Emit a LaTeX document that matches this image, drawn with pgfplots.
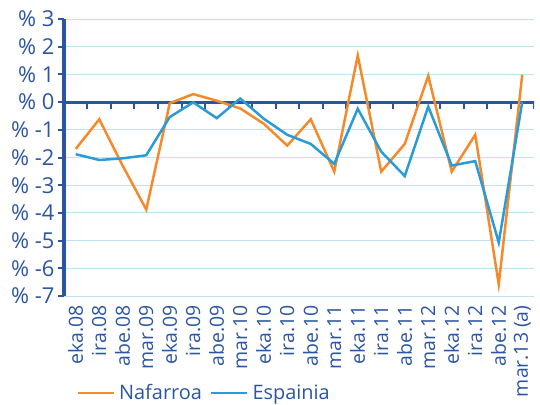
\documentclass[border=0pt]{standalone}
\usepackage{pgfplots}
\pgfplotsset{compat=1.18}
\usepackage{fontspec}
\setmainfont{Open Sans}
\definecolor{naf}{HTML}{F58A2C}
\definecolor{esp}{HTML}{2A9BD6}
\definecolor{axc}{HTML}{2B55A3}
\definecolor{grd}{HTML}{BEE3F4}
\begin{document}
\begin{tikzpicture}
\begin{axis}[
  at={(0,0)}, anchor=south west,
  scale only axis, width=470bp, height=277bp,
  xmin=-0.5, xmax=19.5, ymin=-7, ymax=3,
  axis x line*=bottom, axis y line*=left,
  x axis line style={draw=none},
  y axis line style={axc, line width=3.5bp},
  xtick={0,...,19},
  xticklabels={eka.08,ira.08,abe.08,mar.09,eka.09,ira.09,abe.09,mar.10,eka.10,ira.10,abe.10,mar.11,eka.11,ira.11,abe.11,mar.12,eka.12,ira.12,abe.12,mar.13 (a)},
  x tick label style={rotate=90, anchor=east, font=\fontsize{19.5}{19.5}\selectfont, text=axc},
  x tick style={draw=none},
  ytick={-7,...,3},
  yticklabel={\% \pgfmathprintnumber{\tick}},
  y tick label style={font=\fontsize{22}{22}\selectfont, text=axc},
  /pgf/number format/assume math mode=true,
  y tick style={axc, line width=2bp},
  tick align=outside, major tick length=6bp,
  ymajorgrids, grid style={grd, line width=1bp},
  legend columns=2,
  legend style={at={(0.02,-0.35)}, anchor=west, draw=none, fill=none,
    font=\fontsize{20}{20}\selectfont, text=axc,
    nodes={inner xsep=4bp},
    /tikz/every even column/.append style={column sep=4bp}},
  legend image code/.code={\draw[#1] (0bp,0bp) -- (36bp,0bp);},
]
\draw[axc, line width=3bp] (axis cs:-0.5,0) -- (axis cs:19.5,0);
\pgfplotsinvokeforeach{0,...,19}{\draw[axc, line width=2bp] (axis cs:#1.5,0) -- (axis cs:#1.5,-0.24);}
\addplot[naf, line width=2.5bp] coordinates {
(0,-1.69) (1,-0.62) (2,-2.30) (3,-3.88) (4,-0.04) (5,0.29) (6,0.05) (7,-0.23) (8,-0.78) (9,-1.57)
(10,-0.62) (11,-2.51) (12,1.68) (13,-2.51) (14,-1.51) (15,0.95) (16,-2.51) (17,-1.18) (18,-6.58) (19,0.99)};
\addlegendentry{Nafarroa}
\addplot[esp, line width=2.5bp] coordinates {
(0,-1.88) (1,-2.09) (2,-2.03) (3,-1.92) (4,-0.54) (5,-0.01) (6,-0.58) (7,0.13) (8,-0.60) (9,-1.18)
(10,-1.51) (11,-2.23) (12,-0.24) (13,-1.79) (14,-2.67) (15,-0.16) (16,-2.29) (17,-2.13) (18,-5.07) (19,0.0)};
\addlegendentry{Espainia}
\end{axis}
\pgfresetboundingbox
\path (-64bp,-109bp) rectangle (476bp,296bp);
\end{tikzpicture}
\end{document}
